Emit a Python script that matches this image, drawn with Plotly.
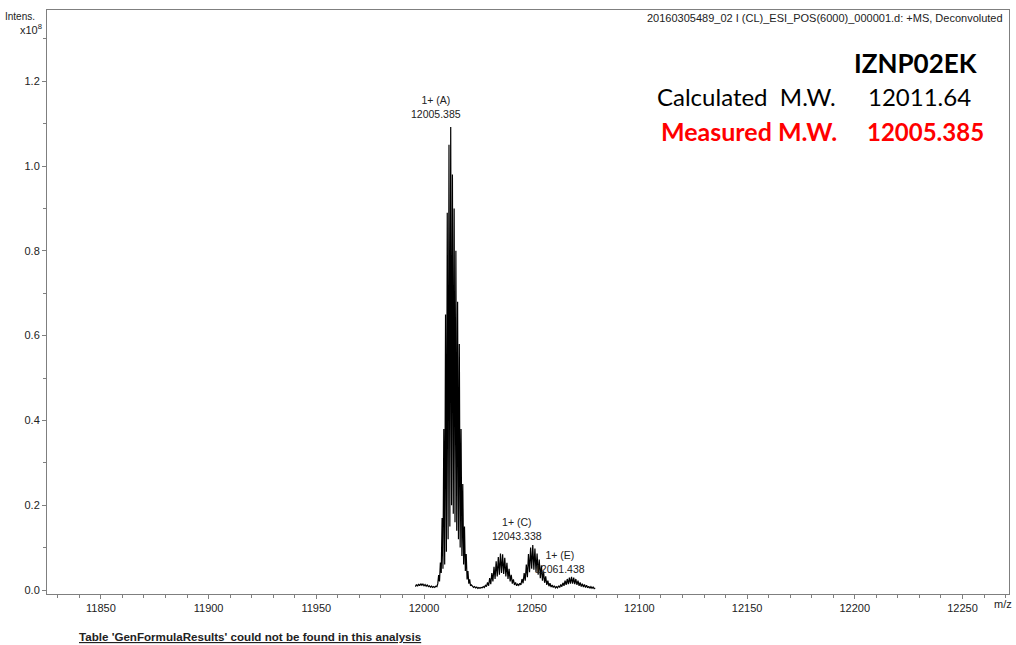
import plotly.graph_objects as go

# Deconvoluted spectrum (m/z, intensity in units of 1e8)
mz = [
    11996.0, 11996.5, 11997.0, 11997.5, 11998.0, 11998.5, 11999.0, 11999.5,
    12000.0, 12000.5, 12001.0, 12001.5, 12002.0, 12002.5, 12003.0, 12003.5,
    12004.0, 12004.5, 12005.0, 12005.5, 12006.0,
    12006.4, 12006.8, 12007.2, 12007.6, 12008.0, 12008.4, 12008.8, 12009.2,
    12009.6, 12010.0, 12010.4, 12010.8, 12011.2, 12011.6, 12012.0, 12012.4,
    12012.8, 12013.2, 12013.6, 12014.0, 12014.4, 12014.8, 12015.2, 12015.6,
    12016.0, 12016.4, 12016.8, 12017.2, 12017.6, 12018.0, 12018.4, 12018.8,
    12019.2, 12019.6, 12020.0, 12020.4, 12020.8, 12021.2, 12021.6, 12022.0,
    12022.5, 12023.0, 12023.5, 12024.0, 12024.5, 12025.0, 12025.5, 12026.0,
    12026.5, 12027.0, 12027.5, 12028.0, 12028.5, 12029.0,
    12029.5, 12030.0, 12030.5, 12031.0, 12031.5, 12032.0, 12032.5, 12033.0,
    12033.5, 12034.0, 12034.5, 12035.0, 12035.5, 12036.0, 12036.5, 12037.0,
    12037.5, 12038.0, 12038.5, 12039.0, 12039.5, 12040.0, 12040.5, 12041.0,
    12041.5, 12042.0, 12042.5, 12043.0, 12043.5, 12044.0,
    12044.5, 12045.0, 12045.5, 12046.0, 12046.5, 12047.0, 12047.5, 12048.0,
    12048.5, 12049.0, 12049.5, 12050.0, 12050.5, 12051.0, 12051.5, 12052.0,
    12052.5, 12053.0, 12053.5, 12054.0, 12054.5, 12055.0, 12055.5, 12056.0,
    12056.5, 12057.0, 12057.5, 12058.0, 12058.5, 12059.0, 12059.5, 12060.0,
    12060.5, 12061.0, 12061.5, 12062.0,
    12062.5, 12063.0, 12063.5, 12064.0, 12064.5, 12065.0, 12065.5, 12066.0,
    12066.5, 12067.0, 12067.5, 12068.0, 12068.5, 12069.0, 12069.5, 12070.0,
    12070.5, 12071.0, 12071.5, 12072.0, 12072.5, 12073.0, 12073.5, 12074.0,
    12074.5, 12075.0, 12075.5, 12076.0, 12076.5, 12077.0, 12077.5, 12078.0,
    12078.5, 12079.0, 12079.5,
]
intensity = [
    0.008, 0.013, 0.009, 0.014, 0.010, 0.015, 0.011, 0.014,
    0.010, 0.013, 0.009, 0.012, 0.008, 0.010, 0.007, 0.009,
    0.006, 0.008, 0.006, 0.009, 0.008,
    0.015, 0.035, 0.020, 0.065, 0.040, 0.170, 0.050, 0.380,
    0.060, 0.650, 0.090, 0.890, 0.120, 1.050, 0.150, 1.092,
    0.200, 0.980, 0.180, 0.900, 0.160, 0.800, 0.140, 0.680,
    0.120, 0.580, 0.100, 0.380, 0.080, 0.250, 0.060, 0.150,
    0.045, 0.085, 0.025, 0.045, 0.015, 0.025, 0.010, 0.012,
    0.008, 0.006, 0.008, 0.005, 0.007, 0.004, 0.006, 0.004,
    0.006, 0.005, 0.008, 0.006, 0.011, 0.008,
    0.018, 0.010, 0.028, 0.014, 0.040, 0.020, 0.055, 0.026,
    0.068, 0.032, 0.078, 0.036, 0.086, 0.040, 0.084, 0.038,
    0.076, 0.032, 0.064, 0.026, 0.050, 0.020, 0.036, 0.015,
    0.025, 0.012, 0.018, 0.010, 0.014, 0.011,
    0.016, 0.012, 0.026, 0.016, 0.040, 0.022, 0.060, 0.030,
    0.085, 0.042, 0.100, 0.050, 0.106, 0.048, 0.098, 0.042,
    0.086, 0.036, 0.072, 0.028, 0.058, 0.022, 0.044, 0.017,
    0.032, 0.012, 0.022, 0.009, 0.016, 0.007, 0.012, 0.006,
    0.010, 0.005, 0.008, 0.005,
    0.010, 0.006, 0.013, 0.008, 0.017, 0.010, 0.022, 0.012,
    0.026, 0.014, 0.029, 0.015, 0.031, 0.015, 0.029, 0.014,
    0.026, 0.012, 0.022, 0.010, 0.018, 0.008, 0.015, 0.007,
    0.013, 0.006, 0.011, 0.005, 0.009, 0.004, 0.008, 0.004,
    0.007, 0.003, 0.005,
]

# Peak annotations: charge state / label and deconvoluted mass
peak_tags = ["1+ (A)", "1+ (C)", "1+ (E)"]
peak_masses = [12005.385, 12043.338, 12061.438]

sample_name = "IZNP02EK"
calculated_mw = "12011.64"
measured_mw = "12005.385"

x_ticks = [11850, 11900, 11950, 12000, 12050, 12100, 12150, 12200, 12250]
y_ticks = [0.0, 0.2, 0.4, 0.6, 0.8, 1.0, 1.2]

axis_grey = "#7f7f7f"
text_dark = "#222222"
base_font = "Liberation Sans, Arial, sans-serif"
big_font = "Lato, Roboto, sans-serif"

W, H = 1016, 645
ML, MR, MT, MB = 47, 7, 10, 51
PW, PH = W - ML - MR, H - MT - MB

fig = go.Figure()
fig.add_trace(go.Scatter(
    x=mz, y=intensity, mode="lines",
    line=dict(color="black", width=1.2),
    hoverinfo="skip", showlegend=False,
))

# two-line label (tag over mass) above each labelled peak; y is the label's bottom
label_bottom = [1.105, 0.108, 0.031]
label_shift = [0, 0, 4]
for tag, mass, yb, sh in zip(peak_tags, peak_masses, label_bottom, label_shift):
    fig.add_annotation(x=mass, y=yb, text=f"{tag}<br>{mass:.3f}", showarrow=False,
                       xanchor="center", yanchor="bottom", xshift=sh,
                       font=dict(family=base_font, size=10.5, color=text_dark))


def px_note(x, y, text, anchor, size, color, family):
    """Text placed by pixel position on the page."""
    fig.add_annotation(
        x=(x - ML) / PW, y=(H - MB - y) / PH, xref="paper", yref="paper",
        text=text, showarrow=False, xanchor=anchor, yanchor="middle",
        font=dict(family=family, size=size, color=color),
    )


px_note(1005, 18, "20160305489_02 I (CL)_ESI_POS(6000)_000001.d: +MS, Deconvoluted",
        "right", 11, text_dark, base_font)
px_note(37, 17, "Intens.", "right", 10, text_dark, base_font)
px_note(44, 29, "x10<sup>8</sup>", "right", 11, text_dark, base_font)
px_note(1003, 604, "m/z", "center", 11, text_dark, base_font)
px_note(980, 63, f"<b>{sample_name}</b>", "right", 26, "black", big_font)
px_note(838, 97, "Calculated  M.W.", "right", 24, "black", big_font)
px_note(866, 97, calculated_mw, "left", 24, "black", big_font)
px_note(839, 131, "<b>Measured M.W.</b>", "right", 25, "#ff0000", big_font)
px_note(865, 131, f"<b>{measured_mw}</b>", "left", 24, "#ff0000", big_font)
px_note(77, 636, "<b><u>Table 'GenFormulaResults' could not be found in this analysis</u></b>",
        "left", 11.6, text_dark, base_font)

fig.update_xaxes(
    range=[11824.97, 12271.6], tickmode="array", tickvals=x_ticks, tickformat="d",
    ticks="outside", ticklen=4, tickcolor=axis_grey, tickwidth=1,
    minor=dict(dtick=10, tick0=11830, ticks="outside", ticklen=3, tickcolor=axis_grey),
    showline=True, linecolor=axis_grey, linewidth=1, mirror=True,
    showgrid=False, zeroline=False,
    tickfont=dict(family=base_font, size=11, color=text_dark),
)
fig.update_yaxes(
    range=[-0.0094, 1.368], tickmode="array", tickvals=y_ticks, tickformat=".1f",
    ticks="outside", ticklen=4, tickcolor=axis_grey, tickwidth=1,
    minor=dict(dtick=0.1, tick0=0, ticks="outside", ticklen=3, tickcolor=axis_grey),
    showline=True, linecolor=axis_grey, linewidth=1, mirror=True,
    showgrid=False, zeroline=False,
    tickfont=dict(family=base_font, size=11, color=text_dark),
)

fig.update_layout(
    width=W, height=H,
    margin=dict(l=ML, r=MR, t=MT, b=MB),
    plot_bgcolor="white", paper_bgcolor="white",
    showlegend=False,
)

fig.write_html("out.html")
